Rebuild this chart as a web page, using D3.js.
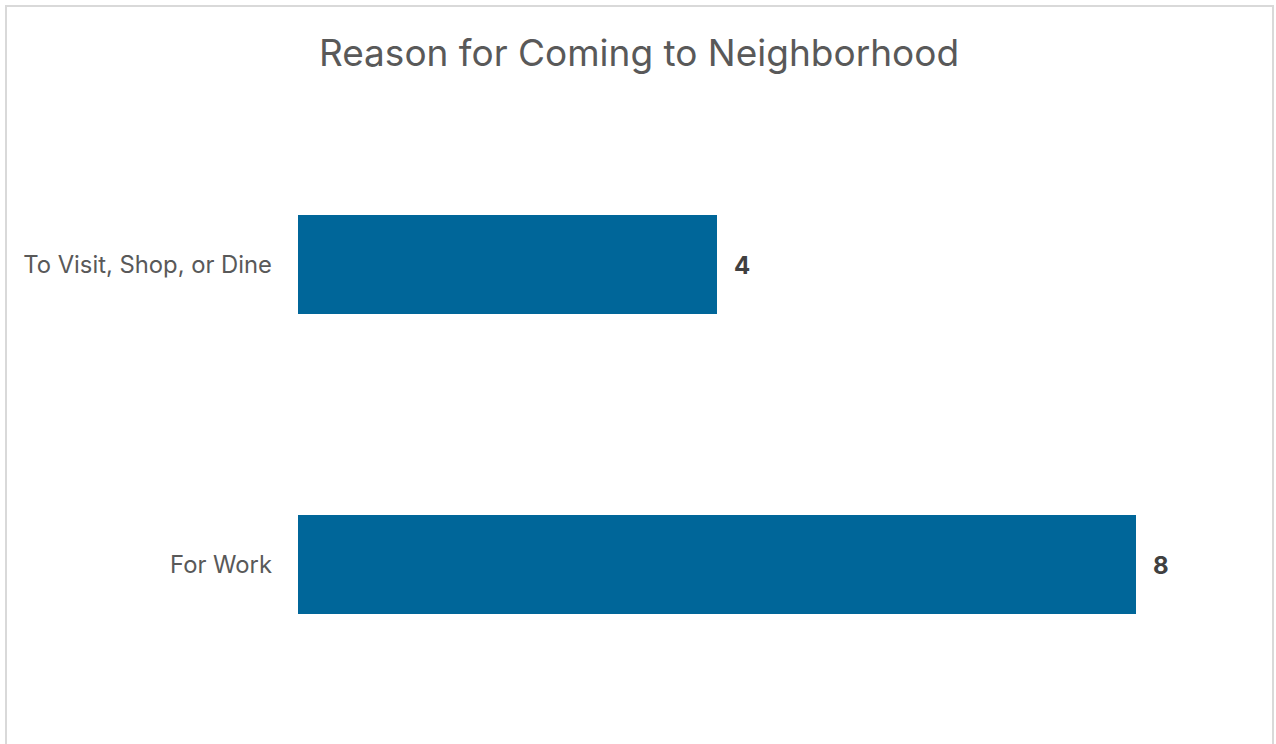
<!DOCTYPE html>
<html>
<head>
<meta charset="utf-8">
<script src="https://cdn.jsdelivr.net/npm/d3@7"></script>
<style>
  body { margin: 0; background: #fff; }
  svg text { font-family: Inter, 'Open Sans', sans-serif; }
</style>
</head>
<body>
<div id="chart"></div>
<script>
const title = 'Reason for Coming to Neighborhood';
const categories = ['To Visit, Shop, or Dine', 'For Work'];
const counts = [4, 8];

const width = 1276, height = 744;

const svg = d3.select('#chart').append('svg')
  .attr('width', width)
  .attr('height', height);

// chart frame
svg.append('rect')
  .attr('x', 6).attr('y', 6)
  .attr('width', 1267).attr('height', 760)
  .attr('fill', '#fff')
  .attr('stroke', '#d9d9d9')
  .attr('stroke-width', 2);

svg.append('text')
  .attr('x', 639).attr('y', 53)
  .attr('dy', '0.35em')
  .attr('text-anchor', 'middle')
  .style('font-size', '37px')
  .style('fill', '#595959')
  .text(title);

const x = d3.scaleLinear().domain([0, 8]).range([298, 1136]);
const y = d3.scaleBand().domain(categories)
  .range([114.5, 714.5])
  .paddingInner(0.67)
  .paddingOuter(0.335);

svg.selectAll('.bar')
  .data(categories)
  .enter().append('rect')
  .attr('class', 'bar')
  .attr('x', x(0))
  .attr('y', d => y(d))
  .attr('width', (d, i) => x(counts[i]) - x(0))
  .attr('height', y.bandwidth())
  .attr('fill', '#006699');

// category labels
svg.selectAll('.cat')
  .data(categories)
  .enter().append('text')
  .attr('class', 'cat')
  .attr('x', 272)
  .attr('y', d => y(d) + y.bandwidth() / 2)
  .attr('dy', '0.35em')
  .attr('text-anchor', 'end')
  .style('font-size', '23.8px')
  .style('fill', '#595959')
  .text(d => d);

// value labels
svg.selectAll('.val')
  .data(categories)
  .enter().append('text')
  .attr('class', 'val')
  .attr('x', (d, i) => x(counts[i]) + 17)
  .attr('y', d => y(d) + y.bandwidth() / 2)
  .attr('dy', '0.38em')
  .style('font-size', '24px')
  .style('font-weight', 'bold')
  .style('fill', '#404040')
  .text((d, i) => counts[i]);
</script>
</body>
</html>
